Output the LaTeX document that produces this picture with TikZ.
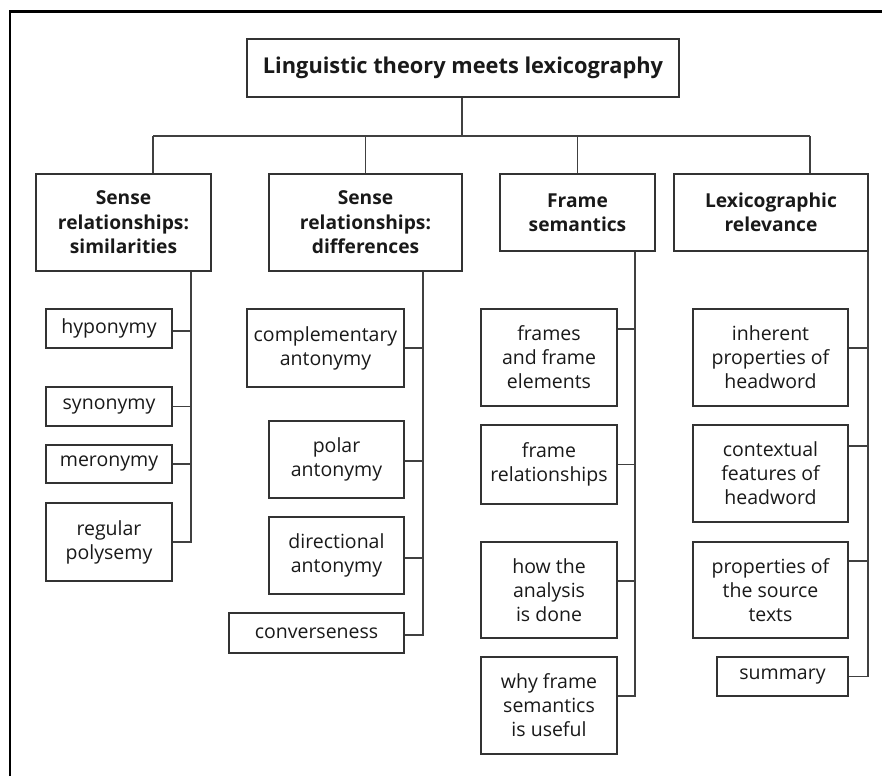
\documentclass[tikz,border=0pt]{standalone}
\usepackage{fontspec}
\setmainfont{Open Sans}
\begin{document}
\begin{tikzpicture}[x=1pt,y=-1pt,
  box/.style={draw=black!80, line width=1.1pt, align=center, inner sep=0pt,
    font=\fontsize{19.5}{24}\selectfont, text=black!90},
  head/.style={box, font=\fontsize{19.2}{24.5}\selectfont\bfseries},
  titlebox/.style={box, font=\fontsize{21.8}{26}\selectfont\bfseries},
  link/.style={draw=black!75, line width=1.1pt},
  frameline/.style={draw=black, line width=2.6pt}]
\useasboundingbox (0,0) rectangle (882,776);

% outer frame: top and left rules
\coordinate (fBL) at (10,776);
\coordinate (fTR) at (882,11.5);
\draw[frameline] (fBL) |- (fTR);

% title
\node[titlebox, minimum width=432pt, minimum height=58pt] (title) at (463,68)
  {Linguistic theory meets lexicography};

% section heads
\node[head, minimum width=175pt, minimum height=97pt] (sim) at (123.5,222.5)
  {Sense\\relationships:\\similarities};
\node[head, minimum width=193pt, minimum height=97pt] (diff) at (365.5,222.5)
  {Sense\\relationships:\\differences};
\node[head, minimum width=155pt, minimum height=77pt] (frm) at (577.5,212.5)
  {Frame\\semantics};
\node[head, minimum width=194pt, minimum height=77pt] (lex) at (771,212.5)
  {Lexicographic\\relevance};

% similarities
\node[box, minimum width=126pt, minimum height=39pt] (hypo) at (109,328.5) {hyponymy};
\node[box, minimum width=126pt, minimum height=39pt] (syn)  at (109,406.5) {synonymy};
\node[box, minimum width=126pt, minimum height=38pt] (mero) at (109,464) {meronymy};
\node[box, minimum width=126pt, minimum height=78pt] (poly) at (109,542) {regular\\polysemy};

% differences
\node[box, minimum width=157pt, minimum height=78pt] (comp)  at (325.5,348) {complementary\\antonymy};
\node[box, minimum width=135pt, minimum height=77pt] (polar) at (336.5,459.5) {polar\\antonymy};
\node[box, minimum width=135pt, minimum height=77pt] (dir)   at (336.5,555.5) {directional\\antonymy};
\node[box, minimum width=175pt, minimum height=40pt] (conv)  at (316.5,633) {converseness};

% frame semantics
\node[box, minimum width=136pt, minimum height=97pt] (fel)  at (549,357.5) {frames\\and frame\\elements};
\node[box, minimum width=136pt, minimum height=79pt] (frel) at (549,464.5) {frame\\relationships};
\node[box, minimum width=136pt, minimum height=96pt] (how)  at (549,590) {how the\\analysis\\is done};
\node[box, minimum width=136pt, minimum height=97pt] (why)  at (549,705.5) {why frame\\semantics\\is useful};

% lexicographic relevance
\node[box, minimum width=155pt, minimum height=97pt] (inh)  at (770.5,357.5) {inherent\\properties of\\headword};
\node[box, minimum width=155pt, minimum height=97pt] (ctx)  at (770.5,473.5) {contextual\\features of\\headword};
\node[box, minimum width=155pt, minimum height=96pt] (src)  at (770.5,590) {properties of\\the source\\texts};
\node[box, minimum width=131pt, minimum height=39pt] (summ) at (782.5,676.5) {summary};

% top-level bar
\coordinate (bar) at (462,136);
\coordinate (dA) at (153,136);
\coordinate (dD) at (810,136);
\draw[link] (title.south -| bar) -- (bar);
\draw[link] (dA) -- (dD);
\draw[link] (dA) -- (dA |- sim.north);
\draw[link] (diff.north |- bar) -- (diff.north);
\draw[link] (frm.north |- bar) -- (frm.north);
\draw[link] (dD) -- (dD |- lex.north);

% spines
\coordinate (sS) at (191,0);
\coordinate (sD) at (423,0);
\coordinate (sF) at (635,0);
\coordinate (sL) at (868,0);

% attachment points
\coordinate (hypoC)  at ([yshift=-2.5pt]hypo.east);
\coordinate (polarC) at ([yshift=-1.5pt]polar.east);
\coordinate (dirC)   at ([yshift=-2.5pt]dir.east);
\coordinate (convC)  at ([yshift=-2pt]conv.east);
\coordinate (felC)   at ([yshift=28.5pt]fel.east);
\coordinate (howC)   at ([yshift=9pt]how.east);
\coordinate (whyC)   at ([yshift=9.5pt]why.east);
\coordinate (inhC)   at ([yshift=9.5pt]inh.east);
\coordinate (ctxC)   at ([yshift=27.5pt]ctx.east);
\coordinate (srcC)   at ([yshift=29pt]src.east);

\draw[link] (sim.south -| sS) |- (poly.east);
\draw[link] (hypoC) -- (hypoC -| sS);
\draw[link] (syn.east) -- (syn.east -| sS);
\draw[link] (mero.east) -- (mero.east -| sS);

\draw[link] (diff.south -| sD) |- (convC);
\draw[link] (comp.east) -- (comp.east -| sD);
\draw[link] (polarC) -- (polarC -| sD);
\draw[link] (dirC) -- (dirC -| sD);

\draw[link] (frm.south -| sF) |- (whyC);
\draw[link] (felC) -- (felC -| sF);
\draw[link] (frel.east) -- (frel.east -| sF);
\draw[link] (howC) -- (howC -| sF);

\draw[link] (lex.south -| sL) |- (summ.east);
\draw[link] (inhC) -- (inhC -| sL);
\draw[link] (ctxC) -- (ctxC -| sL);
\draw[link] (srcC) -- (srcC -| sL);
\end{tikzpicture}
\end{document}
